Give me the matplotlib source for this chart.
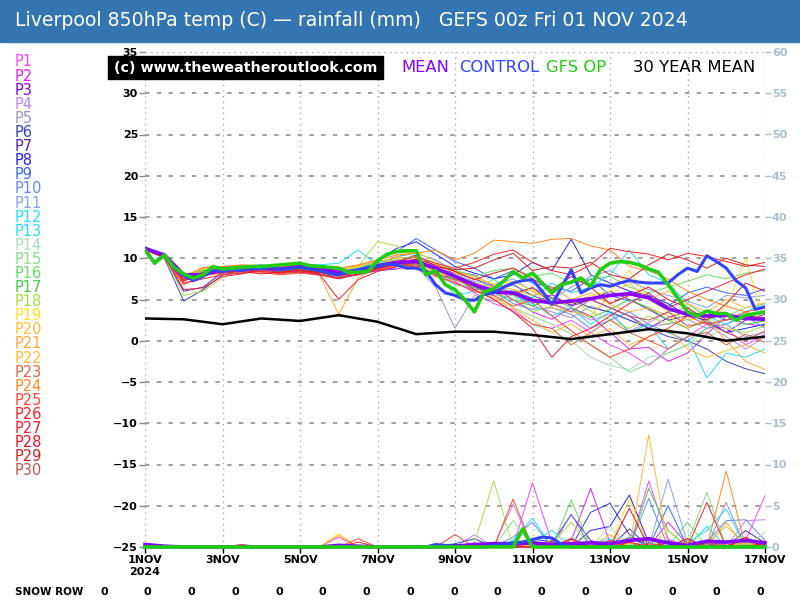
import matplotlib
matplotlib.use('Agg')
import matplotlib.pyplot as plt
from matplotlib.patches import Rectangle
import numpy as np

# ---- data (days from 1 NOV 00z) ----
member_names = ['P%d' % i for i in range(1, 31)]
member_colors = ['#ff44ff', '#dd22ee', '#8800ee', '#bb88ee', '#a090c0', '#3344bb',
                 '#5522bb', '#2222ee', '#3366ff', '#6688ee', '#88a0ee', '#22ddff',
                 '#22ddee', '#aaddbb', '#88dd88', '#66dd66', '#44cc44', '#aadd44',
                 '#ffdd22', '#ffbb33', '#ffaa33', '#ffbb33', '#dd6644', '#ff8822',
                 '#ff4433', '#ff2222', '#ee2233', '#ee1122', '#cc2222', '#bb5555']

# 850hPa temps, 12-hourly
p01_temp = [11.0, 10.1, 7.8, 8.4, 8.5, 8.6, 8.4, 8.7, 9.0, 8.5, 8.0, 8.4, 8.8, 9.2, 9.8, 8.6, 7.2, 5.8, 4.5, 3.8, 2.0, 1.5, 2.5, 1.0, -0.5, -1.5, -3.0, -1.0, 0.5, 2.0, 1.5, -0.5, 0.8]
p02_temp = [11.2, 10.3, 7.4, 8.6, 8.8, 9.0, 8.6, 8.4, 8.8, 8.3, 7.9, 8.2, 8.6, 9.4, 9.0, 8.0, 7.0, 6.2, 6.4, 5.0, 3.5, 2.6, 4.0, 3.0, 1.0, -1.0, -0.8, -2.5, -1.5, 0.8, 3.0, 2.0, 1.8]
p03_temp = [11.1, 10.2, 7.7, 8.5, 8.2, 8.4, 8.7, 8.8, 8.4, 8.2, 7.8, 8.0, 8.5, 8.7, 9.2, 8.0, 7.6, 7.0, 6.2, 5.8, 4.5, 5.6, 4.2, 5.0, 4.0, 3.0, 1.5, 2.8, 3.6, 2.2, 1.0, 2.5, 3.2]
p04_temp = [11.0, 10.3, 7.9, 8.2, 8.4, 8.5, 8.6, 8.2, 8.3, 7.9, 8.1, 8.4, 8.6, 8.8, 8.9, 8.2, 7.8, 6.6, 5.4, 6.2, 5.0, 4.4, 3.8, 2.5, 3.2, 1.2, 2.2, 3.5, 4.0, 2.0, 0.5, -1.0, 0.5]
p05_temp = [11.1, 10.2, 7.5, 8.8, 8.6, 8.7, 8.9, 8.6, 8.7, 8.9, 8.2, 8.3, 8.7, 9.0, 9.0, 6.5, 1.5, 5.5, 4.8, 5.6, 4.2, 3.5, 2.8, 4.2, 3.4, 2.5, 1.8, 2.0, 2.6, 1.5, 2.0, 0.5, 1.0]
p06_temp = [11.2, 10.0, 4.8, 6.2, 8.0, 8.4, 8.6, 8.3, 8.5, 8.2, 7.6, 8.0, 8.8, 9.6, 10.4, 9.0, 7.5, 6.8, 6.0, 6.8, 5.5, 4.5, 5.0, 4.0, 3.5, 2.5, 1.5, 0.5, 0.0, -1.0, -2.5, -3.4, -4.0]
p07_temp = [11.0, 10.1, 6.0, 6.5, 8.3, 8.6, 8.8, 8.5, 8.6, 8.4, 8.2, 8.6, 9.0, 9.4, 9.0, 8.8, 8.2, 7.5, 6.6, 5.8, 6.4, 5.2, 4.4, 5.0, 6.0, 5.0, 3.8, 2.5, 3.0, 3.5, 2.5, 3.0, 2.8]
p08_temp = [11.1, 10.3, 7.6, 8.8, 9.0, 9.1, 8.9, 9.2, 9.4, 9.0, 8.5, 8.9, 9.8, 11.2, 12.0, 10.5, 9.0, 8.2, 7.5, 8.0, 9.5, 8.5, 12.3, 8.0, 7.0, 6.0, 5.5, 4.5, 3.0, 2.5, 1.0, 1.5, 2.0]
p09_temp = [11.0, 10.2, 7.9, 8.7, 8.9, 9.0, 9.2, 8.9, 9.3, 9.1, 8.7, 9.0, 9.8, 10.8, 12.4, 11.0, 9.6, 8.8, 7.5, 8.5, 7.0, 6.5, 6.0, 7.5, 5.5, 4.8, 5.5, 4.2, 5.8, 6.5, 5.8, 5.5, 6.3]
p10_temp = [11.1, 10.4, 7.8, 8.6, 8.8, 8.7, 8.9, 9.1, 9.0, 8.8, 8.6, 8.8, 9.4, 10.2, 10.6, 9.8, 8.4, 8.0, 6.0, 4.5, 3.8, 4.0, 3.2, 1.5, 2.5, 3.5, 2.0, 1.0, 0.0, 1.5, 2.0, 3.0, 1.5]
p11_temp = [11.0, 10.2, 7.2, 8.4, 8.6, 8.8, 8.6, 8.8, 8.9, 8.6, 8.4, 8.7, 9.0, 9.6, 9.5, 9.0, 8.0, 7.2, 6.8, 7.5, 6.0, 5.0, 6.5, 7.8, 8.5, 7.2, 6.2, 5.5, 4.8, 4.0, 5.5, 5.2, 5.5]
p12_temp = [11.2, 10.3, 7.6, 8.5, 8.7, 8.8, 9.0, 8.8, 9.1, 9.2, 9.4, 11.0, 9.2, 9.6, 9.8, 8.6, 5.5, 6.0, 7.5, 5.5, 4.5, 3.0, 4.0, 2.0, 3.5, 1.0, 2.0, -1.0, 0.5, -4.5, -1.5, -2.0, -1.0]
p13_temp = [11.0, 10.1, 7.7, 8.7, 8.5, 8.6, 8.8, 8.6, 8.7, 8.5, 8.6, 8.9, 9.5, 9.8, 9.7, 8.2, 6.8, 6.5, 5.8, 6.0, 5.2, 7.0, 5.8, 6.5, 8.0, 11.0, 8.0, 7.0, 4.5, 3.0, 2.0, 3.5, 4.5]
p14_temp = [11.1, 10.2, 7.5, 8.4, 8.6, 8.8, 8.5, 8.7, 8.8, 8.6, 8.5, 8.7, 9.2, 9.4, 9.3, 8.5, 7.6, 6.8, 5.5, 3.5, 2.0, 1.0, 0.0, -2.0, -3.0, -3.5, -2.0, -1.5, -0.5, 0.5, 1.5, 2.0, 2.5]
p15_temp = [11.0, 10.3, 7.8, 8.6, 8.8, 8.9, 9.0, 8.7, 9.0, 8.8, 8.6, 8.9, 9.4, 9.6, 9.4, 8.8, 7.8, 7.0, 6.0, 4.0, 3.0, 2.0, 0.8, -0.5, -2.0, -3.8, -2.8, -1.5, -0.5, 1.5, 3.0, 4.0, 4.5]
p16_temp = [11.2, 10.2, 7.6, 8.8, 8.7, 9.0, 9.1, 8.9, 9.2, 8.9, 8.8, 9.0, 9.6, 10.0, 10.2, 9.4, 8.6, 7.8, 8.5, 8.8, 7.8, 8.2, 7.0, 7.5, 7.8, 6.5, 5.8, 6.5, 7.2, 8.0, 7.5, 8.2, 8.5]
p17_temp = [11.1, 10.1, 7.4, 8.5, 8.6, 8.8, 8.7, 8.5, 8.6, 8.4, 8.3, 8.6, 9.0, 9.3, 9.2, 8.6, 7.4, 6.4, 5.8, 5.0, 4.2, 5.2, 4.0, 2.8, 3.8, 5.0, 4.0, 2.5, 1.5, 2.6, 3.2, 2.0, 2.4]
p18_temp = [11.0, 10.2, 5.5, 6.0, 7.6, 8.6, 8.8, 8.6, 8.9, 8.7, 8.5, 9.0, 12.0, 11.5, 10.0, 8.5, 7.6, 6.6, 6.0, 5.5, 3.5, 4.2, 5.0, 3.6, 2.5, 1.5, 3.0, 2.0, 4.5, 2.8, 1.5, 1.0, 1.8]
p19_temp = [11.1, 10.3, 7.7, 8.7, 8.9, 8.8, 9.0, 8.8, 9.0, 8.8, 8.6, 8.9, 9.8, 10.4, 10.8, 9.6, 8.2, 7.6, 6.8, 7.2, 6.0, 5.0, 4.5, 5.5, 6.0, 8.5, 5.0, 3.5, 2.5, 3.0, 4.0, 10.0, 2.0]
p20_temp = [11.0, 10.2, 7.6, 8.4, 8.6, 8.9, 8.7, 8.9, 9.1, 8.5, 8.2, 8.5, 9.2, 9.8, 9.6, 8.4, 7.0, 6.0, 5.2, 4.0, 2.5, 1.0, 2.0, 0.5, 1.5, -0.5, 0.5, 1.5, -1.0, -2.0, -1.2, -0.5, -1.5]
p21_temp = [11.2, 10.4, 7.3, 8.2, 8.4, 8.7, 8.8, 8.5, 8.6, 8.0, 3.2, 7.6, 9.0, 10.2, 9.8, 9.0, 8.4, 7.8, 6.8, 6.2, 5.5, 6.5, 5.0, 5.8, 4.4, 3.5, 4.0, 3.0, 1.5, 2.5, 0.0, -2.5, -3.5]
p22_temp = [11.1, 10.1, 7.8, 8.8, 8.9, 9.1, 9.0, 8.8, 9.2, 9.0, 8.7, 9.1, 9.6, 10.0, 9.0, 8.2, 7.8, 7.0, 6.5, 5.8, 6.2, 4.0, 3.5, 3.0, 5.5, 7.0, 5.0, 6.0, 4.5, 3.5, 5.0, 4.0, 4.6]
p23_temp = [11.0, 10.2, 7.2, 8.2, 8.4, 8.3, 8.5, 8.1, 8.4, 8.2, 7.8, 8.2, 8.6, 9.0, 9.3, 8.0, 7.4, 6.6, 5.0, 3.5, 2.0, 1.5, -0.5, 1.0, 2.5, 1.0, 0.0, -1.0, 0.5, 1.0, -0.5, 0.8, -0.2]
p24_temp = [11.1, 10.3, 7.7, 8.9, 9.0, 9.2, 9.1, 9.0, 9.3, 9.1, 8.8, 9.2, 9.8, 10.4, 10.6, 11.0, 9.8, 10.6, 12.2, 12.0, 11.8, 12.3, 12.4, 11.5, 11.0, 9.0, 8.5, 7.5, 6.0, 5.0, 4.2, 3.5, 2.5]
p25_temp = [11.2, 10.0, 6.8, 7.9, 8.2, 8.5, 8.3, 8.0, 8.2, 8.0, 7.6, 8.0, 8.6, 9.2, 9.0, 7.8, 7.0, 6.0, 5.5, 4.2, 5.0, 3.0, 1.2, -0.5, -2.0, -1.0, 0.5, 1.5, 3.0, 2.0, 2.5, 3.5, 4.0]
p26_temp = [11.0, 10.2, 7.0, 7.5, 8.0, 8.2, 8.4, 8.2, 8.5, 8.3, 7.9, 8.3, 8.9, 9.6, 10.2, 9.4, 8.8, 9.5, 10.5, 11.0, 9.5, 8.5, 8.0, 9.2, 11.2, 10.8, 10.5, 9.8, 10.6, 10.2, 9.6, 9.0, 9.5]
p27_temp = [11.1, 10.3, 6.2, 6.4, 7.8, 8.1, 8.6, 8.4, 8.3, 8.1, 5.0, 7.4, 8.4, 9.0, 9.5, 8.6, 7.8, 6.2, 5.0, 3.5, 1.5, -2.0, 0.5, 1.5, 3.0, 4.5, 5.8, 4.0, 5.0, 6.0, 7.0, 8.0, 8.7]
p28_temp = [11.0, 10.1, 7.3, 8.0, 8.3, 8.4, 8.1, 8.3, 8.6, 8.0, 7.5, 8.1, 8.7, 9.4, 9.9, 9.2, 8.4, 7.4, 8.2, 8.8, 7.5, 6.2, 7.8, 6.5, 4.5, 5.5, 6.5, 5.0, 4.0, 2.5, 4.5, 7.0, 6.0]
p29_temp = [11.1, 10.2, 7.5, 8.3, 8.5, 8.7, 8.8, 8.6, 8.5, 8.3, 8.1, 8.4, 8.9, 9.5, 9.6, 9.0, 8.6, 8.8, 9.8, 10.6, 8.5, 9.0, 8.8, 9.5, 8.0, 7.5, 9.2, 10.5, 9.8, 8.8, 10.0, 9.2, 9.0]
p30_temp = [11.0, 10.3, 7.4, 8.3, 8.6, 8.8, 8.6, 8.4, 8.7, 8.5, 8.3, 8.5, 9.0, 9.4, 9.4, 8.8, 7.6, 6.6, 6.0, 5.6, 6.5, 4.5, 3.5, 5.0, 4.0, 3.0, 2.5, 3.5, 1.8, 2.2, 1.0, 0.0, 1.2]

# rainfall (mm), 12-hourly
p01_rain = [0, 0, 0, 0, 0, 0, 0, 0, 0, 0, 1.2, 0, 0, 0, 0, 0, 0, 0, 0, 0, 7.8, 0.5, 0, 0, 0.3, 0, 8.0, 1.0, 0, 0.5, 0, 0.8, 6.2]
p02_rain = [0, 0, 0, 0, 0, 0, 0, 0, 0, 0, 0, 0, 0, 0, 0, 0, 0, 0, 0, 0, 0.4, 0, 0.8, 7.1, 0.5, 0, 0, 3.0, 0.3, 0, 0.6, 0, 0.4]
p03_rain = [0, 0, 0, 0, 0, 0, 0, 0, 0, 0, 0, 0, 0, 0, 0, 0, 0, 0, 0.3, 0, 0, 0.5, 3.9, 0.8, 0, 0.5, 0, 0, 0.7, 0, 0, 0.4, 0]
p04_rain = [0, 0, 0, 0, 0, 0, 0, 0, 0, 0, 0, 0, 0, 0, 0, 0, 0, 1.5, 0, 5.2, 0, 0, 0, 0.5, 0, 0, 0.4, 0, 0, 0.5, 0, 3.2, 3.3]
p05_rain = [0, 0, 0, 0, 0, 0, 0, 0, 0, 0, 0, 0, 0, 0, 0, 0, 0.3, 0, 0, 0.6, 0, 0, 0, 0, 0.4, 0, 0, 0.5, 0, 0, 5.4, 0, 0.3]
p06_rain = [0, 0, 0, 0, 0, 0, 0, 0, 0, 0, 0, 0, 0, 0, 0.2, 0, 0.4, 1.0, 0, 0, 0.5, 0.3, 0, 4.2, 5.3, 1.5, 0, 0.8, 0, 0.4, 0, 0.6, 0]
p07_rain = [0, 0, 0, 0, 0, 0, 0, 0, 0, 0, 0, 0, 0, 0, 0, 0, 0, 0, 0, 0.4, 0, 0, 1.0, 0, 0, 2.2, 0, 0, 0.6, 0, 0, 2.0, 0.5]
p08_rain = [0, 0, 0, 0, 0, 0, 0, 0, 0, 0, 0, 0, 0, 0, 0, 0, 0.3, 0, 0, 0, 1.0, 0.6, 0, 2.0, 2.5, 6.3, 0.5, 0, 0, 0.8, 0, 0, 0]
p09_rain = [0, 0, 0, 0, 0, 0, 0, 0, 0, 0, 0, 0, 0, 0, 0, 0, 0, 0, 0, 0, 0.5, 0, 0, 0.6, 0, 1.2, 0, 5.0, 0, 0, 0.5, 0, 0.3]
p10_rain = [0, 0, 0, 0, 0, 0, 0, 0, 0, 0, 0, 0, 0, 0, 0, 0, 0, 0, 0, 1.2, 3.0, 0, 4.0, 0, 0.5, 0, 5.9, 0, 0, 0.6, 3.2, 3.3, 0.8]
p11_rain = [0, 0, 0, 0, 0, 0, 0, 0, 0, 0, 0, 0, 0, 0, 0, 0, 0, 0, 0, 0, 0, 0.5, 0, 0, 0.8, 0, 0, 8.2, 0.4, 0, 0, 0.6, 0]
p12_rain = [0, 0, 0, 0, 0, 0, 0, 0, 0, 0, 0, 0, 0, 0, 0, 0, 0, 0, 0, 0.8, 3.5, 0, 0, 0.4, 1.0, 0, 0, 0, 0.5, 2.0, 4.6, 0, 0.5]
p13_rain = [0, 0, 0, 0, 0, 0, 0, 0, 0, 0, 0, 0, 0, 0, 0, 0, 0, 0, 0, 0, 0.5, 2.0, 0, 0, 0.6, 0, 0.5, 0, 0, 2.5, 0, 0.3, 0]
p14_rain = [0, 0, 0, 0, 0, 0, 0, 0, 0, 0, 0, 0, 0, 0, 0, 0, 0, 0, 0.4, 0, 0, 0, 1.2, 0, 2.5, 0, 0, 0.4, 0, 0, 0.5, 0, 1.8]
p15_rain = [0, 0, 0, 0, 0, 0, 0, 0, 0, 0, 0, 0, 0, 0, 0, 0, 0, 0, 0, 3.2, 0, 0, 0, 0.5, 0, 0.4, 0, 0, 0.5, 6.6, 0, 0.5, 0]
p16_rain = [0, 0, 0, 0, 0, 0, 0, 0, 0, 0, 0, 0, 0, 0, 0, 0, 0, 0, 0, 0, 0, 0, 5.7, 0, 0, 0.5, 0, 0, 3.0, 0, 0, 0.4, 0]
p17_rain = [0, 0, 0, 0, 0, 0, 0, 0, 0, 0, 0, 0, 0, 0, 0, 0, 0, 0, 0, 0, 0, 0.3, 0, 0, 0, 0, 7.1, 2.0, 0, 0, 0, 0, 0.5]
p18_rain = [0, 0, 0, 0, 0, 0, 0, 0, 0, 0, 0, 0, 0, 0, 0, 0, 0, 0.5, 8.0, 0, 0, 0.4, 3.0, 0, 0, 0, 0, 2.0, 0, 0.5, 2.5, 0.3, 0]
p19_rain = [0, 0, 0, 0, 0, 0, 0, 0, 0, 0, 1.6, 0, 0, 0, 0, 0, 0, 0, 0, 0, 0.3, 0, 0.5, 0, 0, 5.9, 0, 0, 0.6, 0, 0, 1.0, 0]
p20_rain = [0, 0, 0, 0, 0, 0, 0, 0, 0, 0, 0, 0, 0, 0, 0, 0, 0, 0, 0, 0, 0, 0, 0, 0.4, 0, 0, 13.6, 0, 0.5, 0, 0, 0.8, 0]
p21_rain = [0, 0, 0, 0, 0, 0, 0, 0, 0, 0, 1.4, 0, 0, 0, 0, 0, 0.2, 0, 0, 0, 0, 0, 0.8, 0, 0, 0.5, 0, 0, 0, 0, 3.0, 0, 0.4]
p22_rain = [0, 0, 0, 0, 0, 0, 0, 0, 0, 0, 0, 0, 0, 0, 0, 0, 0, 0, 0, 0, 0.4, 0, 0, 0, 1.5, 0, 0, 0.6, 0, 0, 0, 0.5, 0]
p23_rain = [0, 0, 0, 0, 0, 0, 0, 0, 0, 0, 0, 0, 0, 0, 0, 0, 0, 0.5, 0, 0, 0, 0.8, 0, 0.5, 0, 0, 0, 0, 1.0, 0, 0.4, 0, 0]
p24_rain = [0, 0, 0, 0, 0, 0, 0, 0, 0, 0, 0, 0, 0, 0, 0, 0, 0, 0, 0, 0, 0, 0.3, 0, 0, 0.5, 0, 0, 0, 0.6, 0, 9.2, 0, 0.8]
p25_rain = [0, 0, 0, 0, 0, 0, 0, 0, 0, 0, 0, 1.0, 0, 0, 0, 0, 1.5, 0, 0, 5.8, 0, 0, 0.5, 0, 0, 0, 0.4, 0, 0, 0.6, 0, 0, 0]
p26_rain = [0, 0, 0, 0, 0, 0.3, 0, 0, 0, 0, 0, 0, 0, 0, 0, 0, 0, 0, 0, 0, 0.5, 0, 0, 0, 0.8, 0, 0, 0.5, 0, 0, 0, 1.0, 0]
p27_rain = [0, 0, 0, 0, 0, 0, 0, 0, 0, 0, 0, 0.6, 0, 0, 0, 0, 0, 0, 0, 0, 0, 0.5, 0, 0, 0, 0.6, 0, 0, 0, 5.4, 0, 0, 0.3]
p28_rain = [0, 0, 0, 0, 0, 0, 0, 0, 0, 0, 0, 0, 0, 0, 0, 0, 0, 0, 0, 0, 0, 0, 1.0, 0, 0, 4.7, 0, 0.5, 0, 0, 0, 0, 0.5]
p29_rain = [0, 0, 0, 0, 0, 0, 0, 0, 0, 0, 0, 0, 0, 0, 0, 0, 0, 0, 0, 0, 0, 0, 0, 0.6, 0, 0, 0, 0, 1.0, 0, 0, 1.2, 0]
p30_rain = [0, 0, 0, 0, 0, 0, 0, 0, 0, 0, 0, 0, 0, 0, 0, 0, 0, 0, 0, 0, 0, 0, 0, 0, 0, 0, 1.0, 0, 0, 0.4, 0, 0, 0]

# ensemble mean, 12-hourly
mean_temp = [11.2, 10.4, 8.0, 8.0, 8.7, 8.7, 8.8, 8.7, 9.0, 8.8, 8.3, 8.5, 9.1, 9.5, 9.6, 8.8, 7.8, 6.8, 5.9, 5.8, 4.9, 4.6, 4.8, 5.1, 5.5, 5.7, 5.2, 3.9, 3.2, 3.0, 3.1, 2.7, 2.6]
mean_rain = [0.3, 0.1, 0, 0, 0, 0.05, 0, 0, 0, 0, 0.2, 0.1, 0, 0, 0, 0, 0.1, 0.3, 0.4, 0.4, 0.5, 0.3, 0.4, 0.5, 0.4, 0.8, 1.0, 0.5, 0.2, 0.7, 0.6, 0.8, 0.5]

# control and GFS operational, 6-hourly
control_temp = [11.0, 9.5, 10.4, 8.8, 7.9, 7.3, 7.8, 8.5, 8.4, 8.6, 8.5, 8.8, 8.7, 8.9, 8.6, 8.8,
                8.9, 8.7, 8.5, 8.2, 8.0, 8.3, 8.6, 8.9, 9.0, 9.3, 9.2, 8.8, 8.8, 8.4, 6.8, 5.8,
                5.5, 5.0, 4.9, 5.6, 5.8, 6.5, 7.0, 7.3, 7.4, 6.0, 4.4, 6.5, 8.6, 5.8, 6.4, 6.8,
                6.6, 7.0, 7.3, 7.1, 7.0, 7.0, 7.0, 8.0, 8.8, 8.4, 10.3, 9.6, 8.8, 7.3, 6.4, 3.8, 4.1]
control_rain = [0, 0, 0, 0, 0, 0, 0, 0, 0, 0, 0, 0, 0, 0, 0, 0,
                0, 0, 0, 0, 0, 0, 0, 0, 0, 0, 0, 0, 0, 0, 0.3, 0.2,
                0, 0, 0, 0, 0.2, 0.3, 0.5, 0.6, 0.9, 1.2, 1.1, 0.3, 0, 0, 0, 0,
                0, 0, 0, 0, 0, 0, 0, 0, 0, 0, 0, 0, 0, 0, 0, 0, 0]
gfs_op_temp = [11.0, 9.4, 10.4, 8.9, 8.1, 7.6, 8.0, 9.0, 8.7, 8.8, 8.9, 9.0, 9.0, 9.1, 9.2, 9.3,
               9.4, 9.1, 9.0, 8.9, 8.8, 8.3, 8.3, 8.4, 9.7, 10.5, 10.8, 10.9, 10.9, 8.0, 8.5, 6.8,
               6.2, 5.0, 3.5, 5.9, 6.3, 7.2, 8.4, 7.6, 8.2, 7.0, 5.8, 6.8, 7.1, 7.6, 6.6, 8.6,
               9.4, 9.6, 9.5, 9.2, 8.7, 8.3, 6.8, 5.2, 3.5, 3.0, 3.6, 3.3, 3.3, 2.5, 3.1, 3.3, 3.5]
gfs_op_rain = [0, 0, 0, 0, 0, 0, 0, 0, 0, 0, 0, 0, 0, 0, 0, 0,
               0, 0, 0, 0, 0, 0, 0, 0, 0, 0, 0, 0, 0, 0, 0, 0,
               0, 0, 0, 0, 0, 0, 0, 2.2, 0, 0, 0, 0, 0, 0, 0, 0,
               0, 0, 0, 0, 0, 0, 0, 0, 0, 0, 0, 0, 0, 0, 0, 0, 0]

# 30 year mean, daily
clim_temp = [2.7, 2.6, 2.0, 2.7, 2.4, 3.1, 2.3, 0.8, 1.1, 1.1, 0.7, 0.2, 0.8, 1.4, 0.9, 0.0, 0.5]

tick_labels = ['1NOV\n2024', '3NOV', '5NOV', '7NOV', '9NOV', '11NOV', '13NOV', '15NOV', '17NOV']
snow_row = [0, 0, 0, 0, 0, 0, 0, 0, 0, 0, 0, 0, 0, 0, 0, 0]

members_temp = [p01_temp, p02_temp, p03_temp, p04_temp, p05_temp, p06_temp, p07_temp, p08_temp,
                p09_temp, p10_temp, p11_temp, p12_temp, p13_temp, p14_temp, p15_temp, p16_temp,
                p17_temp, p18_temp, p19_temp, p20_temp, p21_temp, p22_temp, p23_temp, p24_temp,
                p25_temp, p26_temp, p27_temp, p28_temp, p29_temp, p30_temp]
members_rain = [p01_rain, p02_rain, p03_rain, p04_rain, p05_rain, p06_rain, p07_rain, p08_rain,
                p09_rain, p10_rain, p11_rain, p12_rain, p13_rain, p14_rain, p15_rain, p16_rain,
                p17_rain, p18_rain, p19_rain, p20_rain, p21_rain, p22_rain, p23_rain, p24_rain,
                p25_rain, p26_rain, p27_rain, p28_rain, p29_rain, p30_rain]

t12 = np.arange(len(mean_temp)) * 0.5
t6 = np.arange(len(control_temp)) * 0.25
t24 = np.arange(len(clim_temp))

W, H = 800, 600
fig = plt.figure(figsize=(8, 6), dpi=100)
ax = fig.add_axes([145 / W, 53 / H, 620 / W, 495 / H])
ax2 = ax.twinx()

ax.set_xlim(0, 16)
ax.set_ylim(-25, 35)
ax2.set_ylim(0, 60)
for a in (ax, ax2):
    for s in a.spines.values():
        s.set_visible(False)

# grid
for y in range(-20, 35, 5):
    ax.axhline(y, color='#999999', lw=1.3, ls=(0, (2.5, 4)), zorder=0)
ax.axhline(35, color='#aaaaaa', lw=1, ls=(0, (1, 3)), zorder=0)
for x in range(0, 17, 2):
    ax.axvline(x, color='#aaaaaa', lw=1, ls=(0, (1, 3)), zorder=0)

# ensemble members
for temp, rain, c in zip(members_temp, members_rain, member_colors):
    ax.plot(t12, temp, color=c, lw=0.7, zorder=2)
    ax2.plot(t12, rain, color=c, lw=0.7, zorder=2, clip_on=False)

ax.plot(t24, clim_temp, color='black', lw=1.8, zorder=3)
ax.plot(t12, mean_temp, color='#8800ff', lw=2.6, zorder=4)
ax.plot(t6, control_temp, color='#3344ff', lw=2.2, zorder=5)
ax.plot(t6, gfs_op_temp, color='#22cc11', lw=2.6, zorder=6)
ax2.plot(t12, mean_rain, color='#8800ff', lw=2.6, zorder=4, clip_on=False)
ax2.plot(t6, control_rain, color='#3344ff', lw=2.2, zorder=5, clip_on=False)
ax2.plot(t6, gfs_op_rain, color='#22cc11', lw=2.6, zorder=6, clip_on=False)

# ticks
ax.set_xticks(np.arange(0, 17, 2))
ax.set_xticklabels(tick_labels, fontsize=8, fontweight='bold')
ax.tick_params(axis='x', length=4, width=1, pad=2, color='black')
ax.set_yticks(np.arange(-25, 36, 5))
ax.tick_params(axis='y', length=4, width=1, pad=1, labelsize=8, color='#888888')
for lab in ax.get_yticklabels():
    lab.set_fontweight('bold')
ax2.set_yticks(np.arange(0, 61, 5))
ax2.tick_params(axis='y', length=4, width=1, pad=1, labelsize=8,
                color='#a8bfd0', labelcolor='#a8bfd0')
for lab in ax2.get_yticklabels():
    lab.set_fontweight('bold')

# title bar
fig.add_artist(Rectangle((0, 1 - 42 / H), 1, 42 / H, transform=fig.transFigure,
                         color='#3375b0', zorder=0))
fig.text(15 / W, 1 - 21 / H,
         'Liverpool 850hPa temp (C) \u2014 rainfall (mm)   GEFS 00z Fri 01 NOV 2024',
         color='white', fontsize=13.6, va='center', ha='left')

# member legend
for i, (name, c) in enumerate(zip(member_names, member_colors)):
    fig.text(15 / W, 1 - (62 + 14.1 * i) / H, name, color=c, fontsize=10.5, va='center')

# watermark and series key
fig.add_artist(Rectangle((108 / W, 1 - 79 / H), 275 / W, 23 / H, transform=fig.transFigure,
                         color='black', zorder=5))
fig.text(246 / W, 1 - 67.5 / H, '(c) www.theweatheroutlook.com', color='white',
         fontsize=10.3, fontweight='bold', ha='center', va='center', zorder=6)
for x, lab, c in [(401, 'MEAN', '#8800ff'), (459, 'CONTROL', '#3344ff'),
                  (546, 'GFS OP', '#22cc11'), (633, '30 YEAR MEAN', 'black')]:
    fig.text(x / W, 1 - 68 / H, lab, color=c, fontsize=11.8, va='center', ha='left')

# snow row
fig.text(15 / W, 1 - 592 / H, 'SNOW ROW', fontsize=7.5, fontweight='bold', va='center')
for x, v in zip(np.linspace(104, 760, len(snow_row)), snow_row):
    fig.text(x / W, 1 - 592 / H, str(v), fontsize=8, fontweight='bold', va='center', ha='center')

fig.savefig('out.png', dpi=100)
